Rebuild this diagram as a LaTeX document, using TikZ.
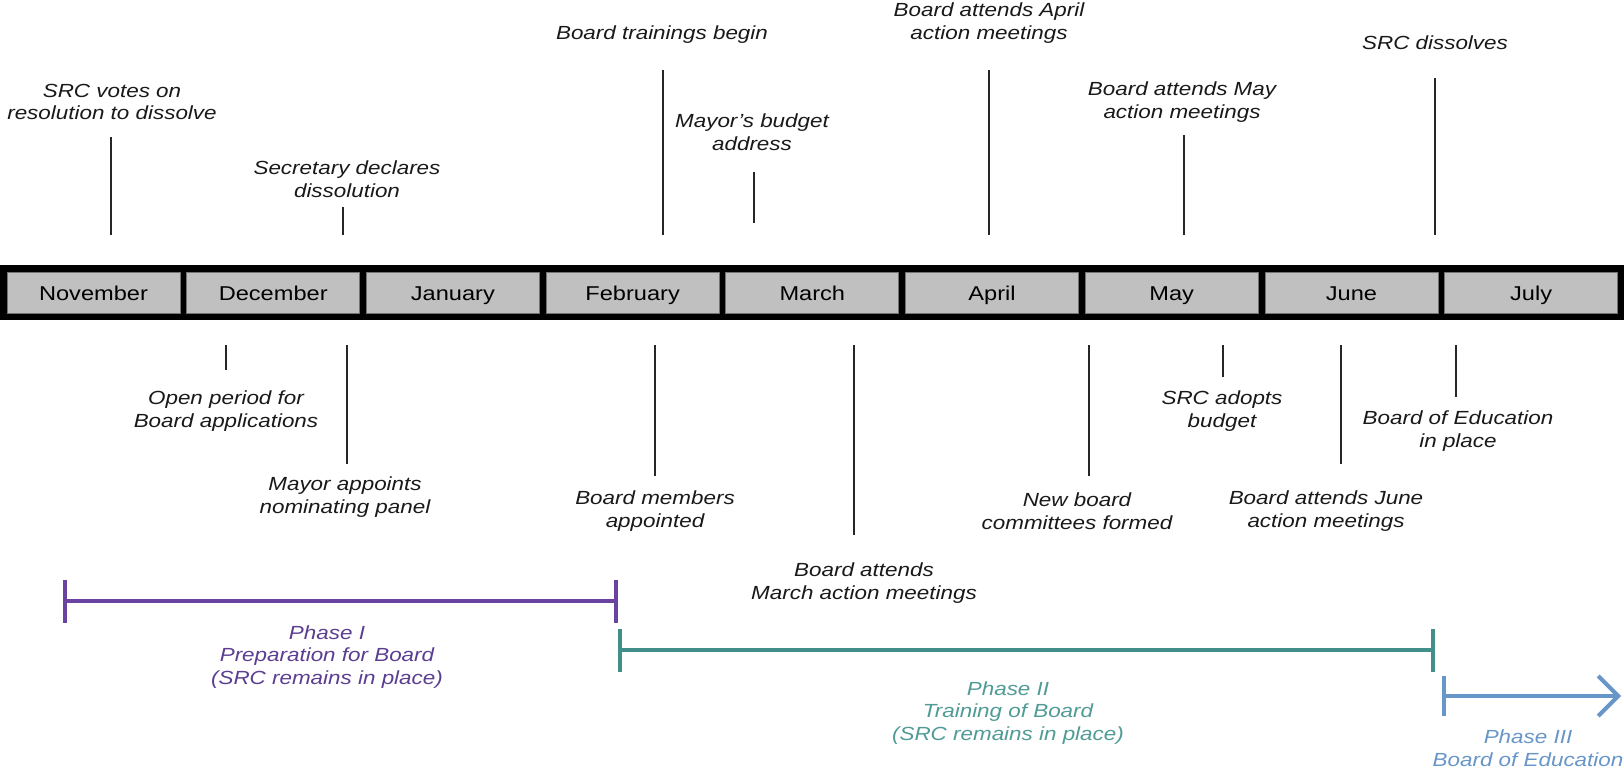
\documentclass[tikz,border=0pt]{standalone}
\usepackage{fontspec}
\setmainfont[FakeStretch=1.18]{Liberation Sans}
\usetikzlibrary{arrows.meta}
\definecolor{phaseone}{RGB}{106,66,160}
\definecolor{phaseonetxt}{RGB}{92,62,145}
\definecolor{phasetwo}{RGB}{66,143,138}
\definecolor{phasetwotxt}{RGB}{80,155,150}
\definecolor{phasethree}{RGB}{104,150,200}
\definecolor{cellgray}{RGB}{192,192,192}
\definecolor{labeltxt}{RGB}{25,25,25}
\tikzset{
  cell/.style={fill=cellgray, draw=black!55, line width=0.8pt, minimum width=173pt, minimum height=41pt, inner sep=0pt, text height=17pt, text depth=1pt, font=\fontsize{20}{24}\selectfont, text=black},
  lbl/.style={align=center, inner sep=0pt, font=\fontsize{19}{22.5}\selectfont\itshape, text=labeltxt},
  plbl/.style={align=center, inner sep=0pt, font=\fontsize{19}{22.5}\selectfont\itshape},
  tickline/.style={draw=black!85, line width=1.3pt},
  phaseline/.style={line width=4pt},
}
\begin{document}
\begin{tikzpicture}[x=1pt,y=-1pt]
\useasboundingbox[fill=white] (0,0) rectangle (1624,768);
% month bar
\node[fill=black, minimum width=1630pt, minimum height=55pt, inner sep=0pt] (bar) at (815,292.5) {};
\node[cell] (nov) at (93.5,292.5) {November};
\node[cell] (dec) at (273.2,292.5) {December};
\node[cell] (jan) at (452.9,292.5) {January};
\node[cell] (feb) at (632.6,292.5) {February};
\node[cell] (mar) at (812.3,292.5) {March};
\node[cell] (apr) at (992.0,292.5) {April};
\node[cell] (may) at (1171.7,292.5) {May};
\node[cell] (jun) at (1351.4,292.5) {June};
\node[cell] (jul) at (1531.1,292.5) {July};
% top labels
\node[lbl] (l1) at (112,102) {SRC votes on\\resolution to dissolve};
\node[lbl] (l2) at (347,179) {Secretary declares\\dissolution};
\node[lbl] (l3) at (662,35) {Board trainings begin};
\node[lbl] (l4) at (752,132) {Mayor’s budget\\address};
\node[lbl] (l5) at (989,23) {Board attends April\\action meetings};
\node[lbl] (l6) at (1182,102) {Board attends May\\action meetings};
\node[lbl] (l7) at (1435,43) {SRC dissolves};
% top ticks
\coordinate (t1a) at (111,137); \coordinate (t1b) at (111,235);
\coordinate (t2a) at (343,207); \coordinate (t2b) at (343,235);
\coordinate (t3a) at (663,70);  \coordinate (t3b) at (663,235);
\coordinate (t4a) at (754,172); \coordinate (t4b) at (754,223);
\coordinate (t5a) at (989,70);  \coordinate (t5b) at (989,235);
\coordinate (t6a) at (1184,135); \coordinate (t6b) at (1184,235);
\coordinate (t7a) at (1435,78); \coordinate (t7b) at (1435,235);
\foreach \i in {1,...,7} {\draw[tickline] (t\i a) -- (t\i b);}
% bottom labels
\node[lbl] (b1) at (226,411) {Open period for\\Board applications};
\node[lbl] (b2) at (345,497) {Mayor appoints\\nominating panel};
\node[lbl] (b3) at (655,511) {Board members\\appointed};
\node[lbl] (b4) at (864,583) {Board attends\\March action meetings};
\node[lbl] (b5) at (1077,511) {New board\\committees formed};
\node[lbl] (b6) at (1222,411) {SRC adopts\\budget};
\node[lbl] (b7) at (1326,511) {Board attends June\\action meetings};
\node[lbl] (b8) at (1458,431) {Board of Education\\in place};
% bottom ticks
\coordinate (u1a) at (226,345);  \coordinate (u1b) at (226,370);
\coordinate (u2a) at (347,345);  \coordinate (u2b) at (347,464);
\coordinate (u3a) at (655,345);  \coordinate (u3b) at (655,476);
\coordinate (u4a) at (854,345);  \coordinate (u4b) at (854,535);
\coordinate (u5a) at (1089,345); \coordinate (u5b) at (1089,476);
\coordinate (u6a) at (1223,345); \coordinate (u6b) at (1223,377);
\coordinate (u7a) at (1341,345); \coordinate (u7b) at (1341,464);
\coordinate (u8a) at (1456,345); \coordinate (u8b) at (1456,397);
\foreach \i in {1,...,8} {\draw[tickline] (u\i a) -- (u\i b);}
% phases
\coordinate (p1a) at (63,601);  \coordinate (p1b) at (618,601);
\coordinate (p2a) at (618,650); \coordinate (p2b) at (1435,650);
\coordinate (p3a) at (1442,696); \coordinate (p3b) at (1621,696);
\draw[phaseline, draw=phaseone, {Bar[width=43pt,line width=4pt]}-{Bar[width=43pt,line width=4pt]}] (p1a) -- (p1b);
\draw[phaseline, draw=phasetwo, {Bar[width=43pt,line width=4pt]}-{Bar[width=43pt,line width=4pt]}] (p2a) -- (p2b);
\draw[phaseline, draw=phasethree, {Bar[width=40pt,line width=4pt]}-{Straight Barb[length=20pt,width=40pt,line width=4pt]}] (p3a) -- (p3b);
\node[plbl, text=phaseonetxt] (ph1) at (327,657) {Phase I\\Preparation for Board\\(SRC remains in place)};
\node[plbl, text=phasetwotxt] (ph2) at (1008,713) {Phase II\\Training of Board\\(SRC remains in place)};
\node[plbl, text=phasethree] (ph3) at (1528,748) {Phase III\\Board of Education};
\end{tikzpicture}
\end{document}
